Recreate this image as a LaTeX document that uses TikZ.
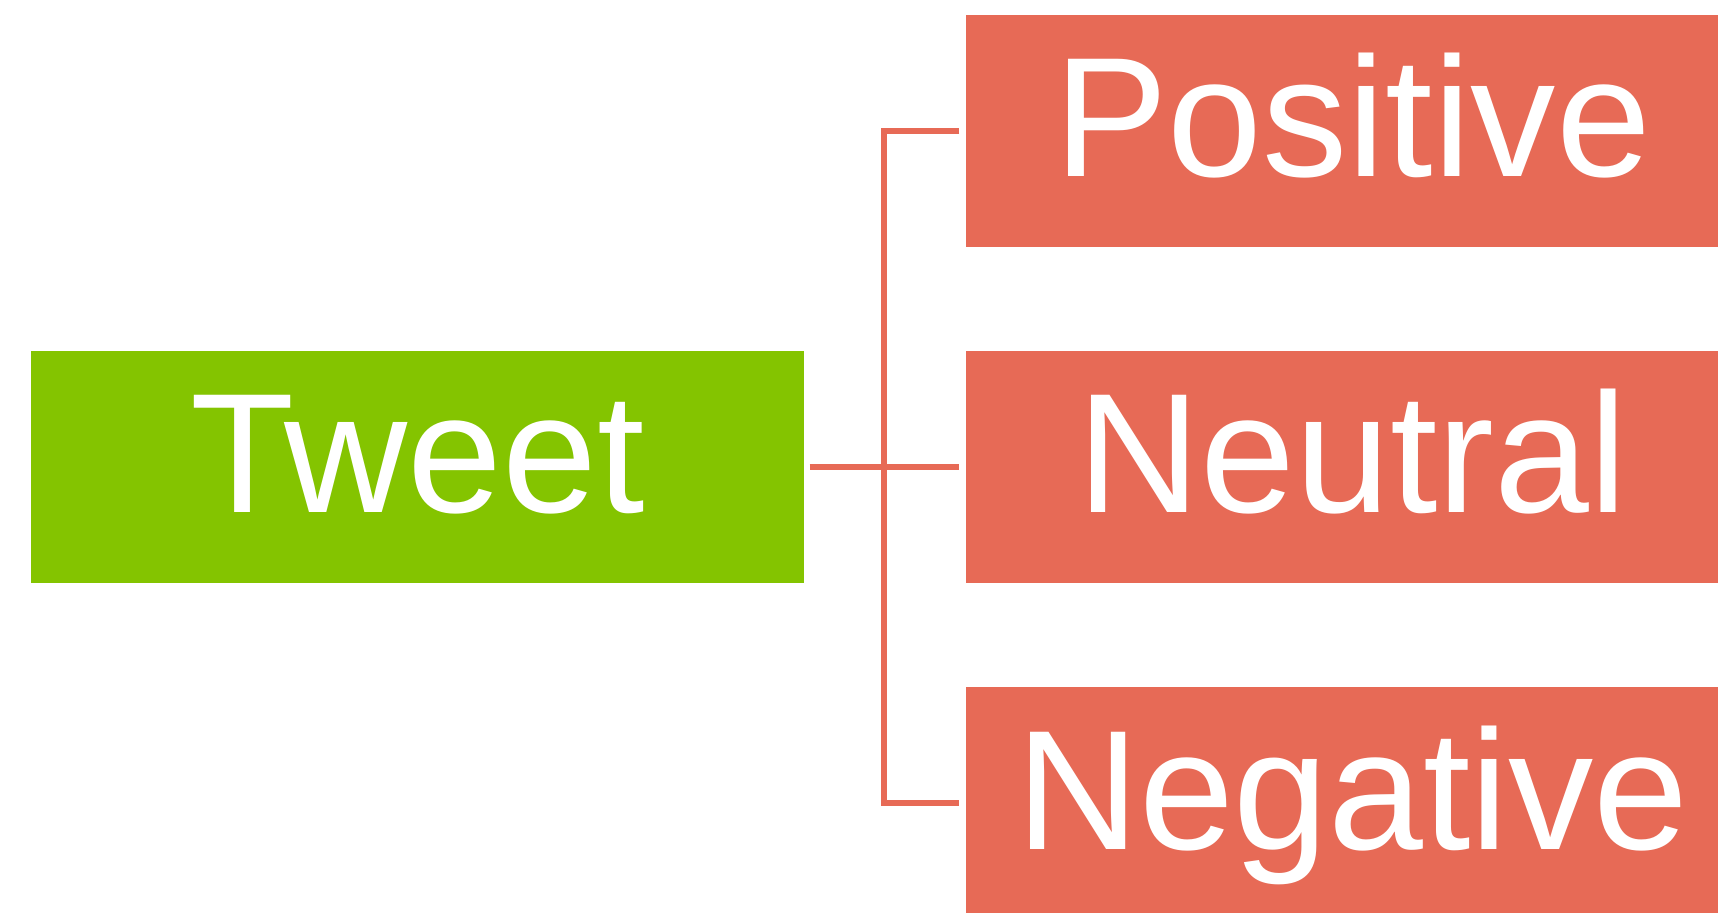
\documentclass[tikz,border=0pt]{standalone}
\usepackage{fontspec}
\setmainfont{Liberation Sans}
\definecolor{tweetgreen}{RGB}{132,196,0}
\definecolor{classred}{RGB}{231,106,86}
\begin{document}
\begin{tikzpicture}[
  box/.style={rectangle, inner sep=0pt, minimum width=7.73cm, minimum height=2.32cm,
    text=white, font=\fontsize{48.5}{48.5}\selectfont, text height=0.92cm, text depth=0pt},
  source/.style={box, fill=tweetgreen},
  target/.style={box, fill=classred},
  link/.style={draw=classred, line width=1.55pt, line join=miter}
]
\useasboundingbox (0,0) rectangle (17.18,9.12);
\clip (0,0) rectangle (17.18,9.12);

% input and the three sentiment classes
\node[source] (tweet) at (4.175,4.45) {Tweet};
\node[target] (pos) at (13.525,7.81) {Positive};
\node[target] (neu) at (13.525,4.45) {Neutral};
\node[target] (neg) at (13.525,1.09) {Negative};

% branching connector
\coordinate (bus) at (8.84,4.45);
\draw[link] ([xshift=0.05cm]tweet.east) -- ([xshift=-0.06cm]neu.west);
\draw[link] ([xshift=-0.06cm]pos.west) -| (bus) |- ([xshift=-0.06cm]neg.west);
\end{tikzpicture}
\end{document}
